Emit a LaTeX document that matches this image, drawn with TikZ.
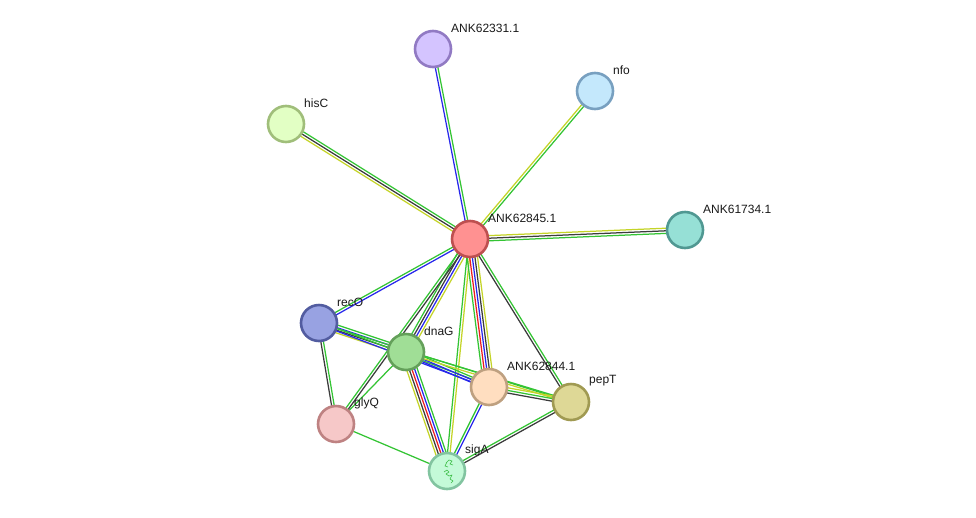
\documentclass[tikz,border=0pt]{standalone}
\usepackage{fontspec}
\setmainfont{Liberation Sans}
\usetikzlibrary{calc}
\pgfdeclarelayer{background}
\pgfsetlayers{background,main}
\definecolor{eg}{RGB}{52,196,52}
\definecolor{ey}{RGB}{196,212,40}
\definecolor{eb}{RGB}{40,40,235}
\definecolor{ek}{RGB}{60,60,60}
\definecolor{er}{RGB}{235,30,30}
\tikzset{
  prot/.style={circle, minimum size=36pt, inner sep=0pt, line width=2.6pt},
  plabel/.style={anchor=west, inner sep=0pt, font=\fontsize{12}{14}\selectfont, text=black!90},
  edgeline/.style={line width=1.25pt},
}
\newcount\mecnt
\newcommand\medge[3]{%
  \global\mecnt=0
  \foreach \c in {#3}{\global\advance\mecnt by 1}%
  \edef\menum{\the\mecnt}%
  \foreach \c [count=\i] in {#3}{%
    \pgfmathsetmacro\off{(\i-(\menum+1)/2)*2.6}%
    \draw[edgeline,draw=\c] ($(#1.center)!\off pt!90:(#2.center)$) -- ($(#2.center)!\off pt!-90:(#1.center)$);
  }}
\begin{document}
\begin{tikzpicture}[x=1pt,y=-1pt]
\useasboundingbox (0,0) rectangle (976,517);
% nodes
\node[prot, fill={rgb,255:red,255;green,145;blue,145}, draw={rgb,255:red,190;green,80;blue,80}] (c45) at (470,239) {};
\node[prot, fill={rgb,255:red,212;green,196;blue,255}, draw={rgb,255:red,145;green,122;blue,195}] (c31) at (433,49) {};
\node[prot, fill={rgb,255:red,196;green,232;blue,252}, draw={rgb,255:red,120;green,160;blue,192}] (nfo) at (595,91) {};
\node[prot, fill={rgb,255:red,226;green,255;blue,196}, draw={rgb,255:red,160;green,190;blue,122}] (hisC) at (286,124) {};
\node[prot, fill={rgb,255:red,150;green,224;blue,214}, draw={rgb,255:red,80;green,152;blue,146}] (c34) at (685,230) {};
\node[prot, fill={rgb,255:red,152;green,162;blue,226}, draw={rgb,255:red,82;green,92;blue,160}] (recO) at (319,323) {};
\node[prot, fill={rgb,255:red,160;green,222;blue,150}, draw={rgb,255:red,100;green,160;blue,90}] (dnaG) at (406,352) {};
\node[prot, fill={rgb,255:red,255;green,222;blue,192}, draw={rgb,255:red,190;green,160;blue,128}] (c44) at (489,387) {};
\node[prot, fill={rgb,255:red,222;green,216;blue,150}, draw={rgb,255:red,160;green,154;blue,82}] (pepT) at (571,402) {};
\node[prot, fill={rgb,255:red,246;green,200;blue,200}, draw={rgb,255:red,190;green,130;blue,130}] (glyQ) at (336,424) {};
\node[prot, fill={rgb,255:red,196;green,250;blue,216}, draw={rgb,255:red,130;green,196;blue,160}] (sigA) at (447,471) {};
% structure sketch inside sigA
\draw[shift={(sigA.center)}, draw={rgb,255:red,60;green,190;blue,70}, line width=0.6pt, line join=round]
  (-1,-8) -- (2,-11) -- (5,-10) -- (3,-7) -- (6,-6) (0,-9) -- (-2,-5) -- (1,-4)
  (-3,1) -- (0,-1) -- (2,1) -- (-1,3) -- (2,5) -- (5,4) -- (3,8) -- (6,10) -- (4,12);
% labels
\node[plabel] (l45) at (488,218) {ANK62845.1};
\node[plabel] (l31) at (451,28) {ANK62331.1};
\node[plabel] (lnfo) at (613,70) {nfo};
\node[plabel] (lhis) at (304,103) {hisC};
\node[plabel] (l34) at (703,209) {ANK61734.1};
\node[plabel] (lrec) at (337,302) {recO};
\node[plabel] (ldna) at (424,331) {dnaG};
\node[plabel] (l44) at (507,366) {ANK62844.1};
\node[plabel] (lpep) at (589,381) {pepT};
\node[plabel] (lgly) at (354,403) {glyQ};
\node[plabel] (lsig) at (465,450) {sigA};
% edges
\begin{pgfonlayer}{background}
\medge{c31}{c45}{eb,eg}
\medge{nfo}{c45}{ey,eg}
\medge{hisC}{c45}{ey,ek,eg}
\medge{c45}{c34}{eg,ek,ey}
\medge{c45}{recO}{eg,eb}
\medge{c45}{dnaG}{eg,ek,eb,ey}
\medge{glyQ}{c45}{ek,eg}
\medge{glyQ}{dnaG}{eg}
\medge{c45}{sigA}{eg,ey}
\medge{dnaG}{sigA}{ey,ek,er,eb,eg}
\medge{c44}{sigA}{eg,eb}
\medge{c45}{c44}{eg,er,eb,ek,ey}
\medge{c45}{pepT}{ek,eg}
\medge{recO}{glyQ}{ek,eg}
\medge{recO}{dnaG}{ey,ek,eb,eg}
\medge{recO}{c44}{eb,eg}
\medge{dnaG}{c44}{eb,eb,eg}
\medge{dnaG}{pepT}{ey,eg}
\medge{recO}{pepT}{eg}
\medge{c44}{pepT}{ek,eg,ey}
\medge{pepT}{sigA}{eg,ek}
\medge{glyQ}{sigA}{eg}
\end{pgfonlayer}
\end{tikzpicture}
\end{document}
